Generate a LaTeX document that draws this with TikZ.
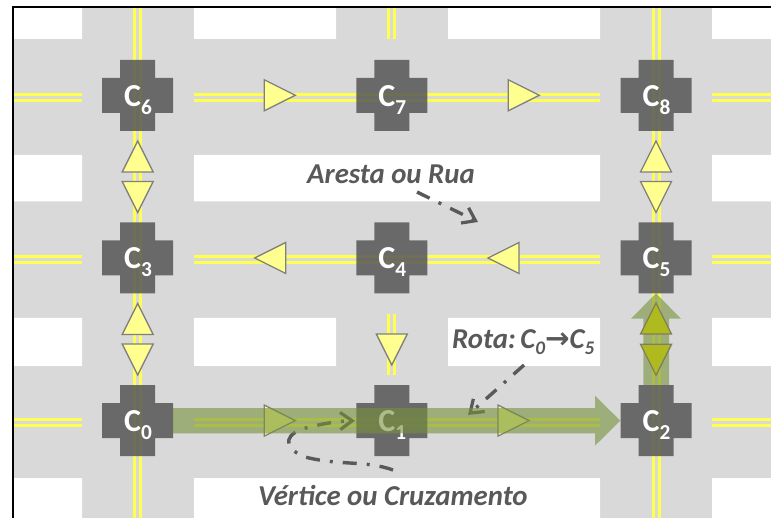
\documentclass[tikz,border=0pt]{standalone}
\usepackage{fontspec}
\setmainfont{Carlito}
\usetikzlibrary{arrows.meta}
\definecolor{road}{HTML}{D9D9D9}
\definecolor{lane}{HTML}{FFFF50}
\definecolor{cruz}{HTML}{565656}
\definecolor{tria}{HTML}{FFFF8F}
\definecolor{trib}{HTML}{7F7F7F}
\definecolor{trid}{HTML}{AEBA1E}
\definecolor{tridb}{HTML}{7F7F5F}
\definecolor{rota}{HTML}{76923C}
\definecolor{txt}{HTML}{595959}
\newcommand\lanesH[3]{\draw[lane] (#1,#3-3)--(#2,#3-3) (#1,#3+3)--(#2,#3+3);}
\newcommand\lanesV[3]{\draw[lane] (#3-3,#1)--(#3-3,#2) (#3+3,#1)--(#3+3,#2);}
\newcommand\crossing[4]{%
  \fill[crossfill] (#1-17.5,#2-35.5)--(#1+17.5,#2-35.5)--(#1+17.5,#2-17.5)--(#1+35.5,#2-17.5)--(#1+35.5,#2+17.5)--(#1+17.5,#2+17.5)--(#1+17.5,#2+35.5)--(#1-17.5,#2+35.5)--(#1-17.5,#2+17.5)--(#1-35.5,#2+17.5)--(#1-35.5,#2-17.5)--(#1-17.5,#2-17.5)--cycle;
  \node[clabel] (#3) at (#1+.5,#2+11) {C\raisebox{-8pt}{\fontsize{21.3}{23}\selectfont #4}};}
\newcommand\triR[3][tri]{\draw[#1] (#2,#3-15.5)--(#2+31,#3)--(#2,#3+15.5)--cycle;}
\newcommand\triL[3][tri]{\draw[#1] (#2,#3-15.5)--(#2-31,#3)--(#2,#3+15.5)--cycle;}
\newcommand\triU[3][tri]{\draw[#1] (#2-15.5,#3)--(#2,#3-31)--(#2+15.5,#3)--cycle;}
\newcommand\triD[3][tri]{\draw[#1] (#2-15.5,#3)--(#2,#3+31)--(#2+15.5,#3)--cycle;}
\tikzset{
  lane/.style={draw=lane,line width=3pt},
  crossfill/.style={fill=cruz,fill opacity=.85},
  clabel/.style={anchor=base,inner sep=0pt,text=white,font=\fontsize{32}{34}\selectfont\bfseries},
  tri/.style={fill=tria,draw=trib,line width=1.3pt,line join=miter},
  tridark/.style={fill=trid,draw=tridb,line width=1.3pt},
  route/.style={fill=rota,fill opacity=.6},
  note/.style={anchor=base west,inner sep=0pt,text=txt,font=\fontsize{28.8}{30}\selectfont\bfseries\itshape},
  callout/.style={draw=txt,line width=3.4pt,dash pattern=on 14pt off 10pt on 3pt off 10pt,-{Straight Barb[length=12pt,width=17pt,line width=3.2pt]}},
}
\begin{document}
\begin{tikzpicture}[x=1pt,y=-1pt]
\useasboundingbox (0,0) rectangle (771,518);
% ground
\fill[road] (14,8) rectangle (771,518);
\fill[white] (14,8) rectangle (82,39) (194,8) rectangle (336,39) (448,8) rectangle (600,39) (712,8) rectangle (771,39);
\fill[white] (14,155) rectangle (82,201.5) (194,155) rectangle (600,201.5) (712,155) rectangle (771,201.5);
\fill[white] (14,318) rectangle (82,366) (194,318) rectangle (336,366) (448,318) rectangle (600,366) (712,318) rectangle (771,366);
\fill[white] (14,478) rectangle (82,518) (194,478) rectangle (600,518) (712,478) rectangle (771,518);
% lanes
\foreach \r in {97.5,260,422.5}{
  \lanesH{14}{82}{\r}
  \lanesH{194}{600}{\r}
  \lanesH{712}{771}{\r}
}
\lanesV{8}{518}{137.7}
\lanesV{8}{518}{656}
\lanesV{8}{39}{391.8}
\lanesV{314}{375}{391.8}
% crossings
\crossing{137.5}{95.3}{c6}{6}
\crossing{391.8}{95.3}{c7}{7}
\crossing{656}{95.3}{c8}{8}
\crossing{137.5}{258}{c3}{3}
\crossing{391.8}{258}{c4}{4}
\crossing{656}{258}{c5}{5}
\crossing{137.5}{420.6}{c0}{0}
\crossing{391.8}{420.6}{c1}{1}
\crossing{656}{420.6}{c2}{2}
% direction triangles
\triR{264.3}{95.3}
\triR{508.3}{95.3}
\triL{285.7}{258}
\triL{519}{258}
\triU{137.7}{172}
\triD{137.7}{181.5}
\triU{137.7}{334.5}
\triD{137.7}{344}
\triU{656}{172}
\triD{656}{181.5}
\triD{391.8}{334}
\triR{264.3}{420.6}
\triR{498}{420.6}
% captions
\node[note] (aresta) at (307,184) {Aresta ou Rua};
\node[note] (vertice) at (258,505) {Vértice ou Cruzamento};
\node[note] (rotalbl) at (452,349) {Rota:\hspace{4.5pt}C\raisebox{-5.5pt}{\fontsize{19.2}{20}\selectfont 0}{\fontspec{DejaVu Sans}[Scale=1.02]→}C\raisebox{-5.5pt}{\fontsize{19.2}{20}\selectfont 5}};
% callouts
\coordinate (aS) at (417,192);
\coordinate (aE) at (478,222);
\coordinate (rS) at (524,365);
\coordinate (rE) at (468,415);
\coordinate (vS) at (393,470);
\coordinate (vE) at (355,420.7);
\draw[callout] (aS) .. controls (437,202) and (458,212) .. (aE);
\draw[callout] (rS) -- (rE);
\draw[callout] (vS) .. controls (365,460) and (340,466) .. (305,457) .. controls (280,447) and (285,432) .. (310,427) .. controls (325,423) and (340,421) .. (vE);
% route
\fill[route] (173,408)--(595,408)--(595,395.7)--(620.3,420.7)--(595,445.7)--(595,433.3)--(173,433.3)--cycle;
\fill[route] (643.3,385)--(643.3,318.7)--(631,318.7)--(656,293.3)--(681,318.7)--(669,318.7)--(669,385)--cycle;
\triU[tridark]{656}{334}
\triD[tridark]{656}{344.3}
% frame
\draw[black,line width=2pt] (13,518)--(13,7)--(771,7);
\end{tikzpicture}
\end{document}
